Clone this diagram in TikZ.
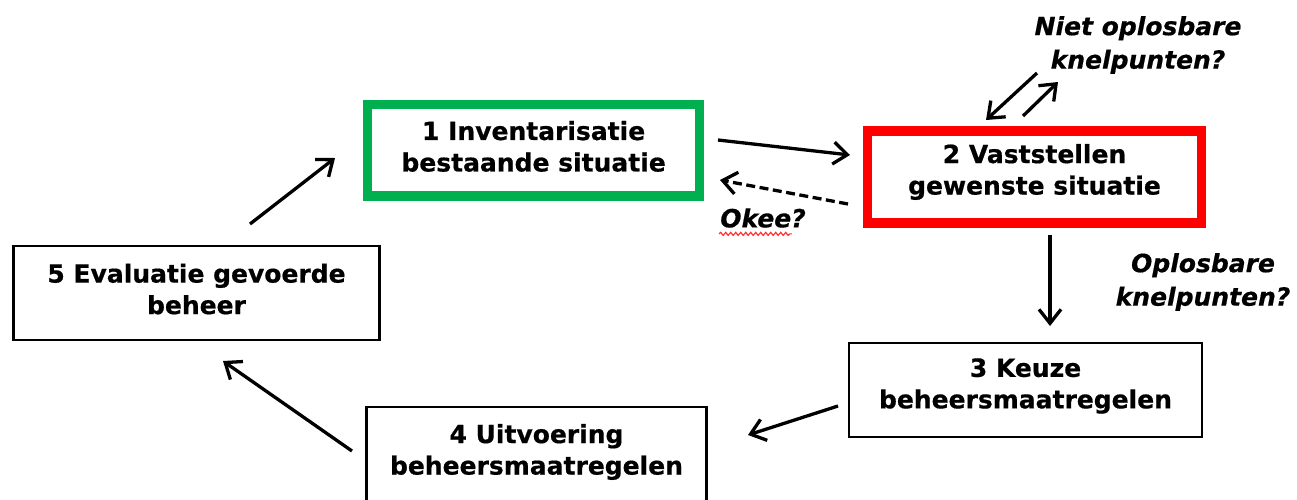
\documentclass[tikz,border=0pt]{standalone}
\usepackage{fontspec}
\setmainfont[BoldFeatures={FakeBold=0.6},BoldItalicFeatures={FakeBold=0.6}]{DejaVu Sans}
\usetikzlibrary{arrows.meta,decorations.pathmorphing}
\definecolor{boxgreen}{HTML}{00B050}
\definecolor{boxred}{HTML}{FF0000}
\begin{document}
\begin{tikzpicture}[x=1pt,y=-1pt,
  txt/.style={font=\fontsize{25}{31.5}\selectfont\bfseries, align=center, inner sep=0pt},
  itxt/.style={font=\fontsize{25}{33.5}\selectfont\bfseries\itshape, align=center, inner sep=0pt},
  plainbox/.style={draw=black, line width=2.2pt, inner sep=0pt},
  greenbox/.style={draw=boxgreen, line width=9.5pt, inner sep=0pt},
  redbox/.style={draw=boxred, line width=9.5pt, inner sep=0pt},
  arr/.style={line width=3.3pt, -{Straight Barb[length=14pt,width=22pt,line width=3.3pt]}},
  darr/.style={arr, dash pattern=on 9pt off 4.5pt}
]
\useasboundingbox (0,0) rectangle (1297,499);
\clip (0,0) rectangle (1297,499);

\node[greenbox, minimum width=332pt, minimum height=91.5pt] (b1) at (533.6,150.4) {};
\node[redbox, minimum width=334pt, minimum height=92pt] (b2) at (1034.5,177) {};
\node[plainbox, minimum width=353pt, minimum height=94pt] (b3) at (1025.5,390) {};
\node[plainbox, minimum width=340pt, minimum height=98pt] (b4) at (536.5,456) {};
\node[plainbox, minimum width=366pt, minimum height=94pt] (b5) at (196.5,293) {};

\node[txt] (t1) at ([yshift=4pt]b1.center) {1 Inventarisatie\\bestaande situatie};
\node[txt] (t2) at ([yshift=5pt]b2.center) {2 Vaststellen\\gewenste situatie};
\node[txt] (t3) at ([yshift=4pt]b3.center) {3 Keuze\\beheersmaatregelen};
\node[txt] (t4) at ([yshift=4pt]b4.center) {4 Uitvoering\\beheersmaatregelen};
\node[txt] (t5) at ([yshift=4pt]b5.center) {5 Evaluatie gevoerde\\beheer};

\node[itxt] (niet) at (1138,45) {Niet oplosbare\\knelpunten?};
\node[itxt] (opl) at (1203,282) {Oplosbare\\knelpunten?};
\node[itxt] (okee) at (763,218) {Okee?};

% endpoints
\coordinate (a12s) at (718,140);
\coordinate (a12e) at (850,155);
\coordinate (a21s) at (848,204);
\coordinate (a21e) at (720,180);
\coordinate (n1s) at (1037,73);
\coordinate (n1e) at (986,120);
\coordinate (n2s) at (1023,116);
\coordinate (n2e) at (1058,82);
\coordinate (a23s) at (1050,235);
\coordinate (a23e) at (1050,326);
\coordinate (a34s) at (838,406);
\coordinate (a34e) at (748,435);
\coordinate (a45s) at (352,451);
\coordinate (a45e) at (223,361);
\coordinate (a51s) at (250,224);
\coordinate (a51e) at (335,158);

\draw[arr] (a12s) -- (a12e);
\draw[darr] (a21s) -- (a21e);
\draw[arr] (n1s) -- (n1e);
\draw[arr] (n2s) -- (n2e);
\draw[arr] (a23s) -- (a23e);
\draw[arr] (a34s) -- (a34e);
\draw[arr] (a45s) -- (a45e);
\draw[arr] (a51s) -- (a51e);

\draw[red!80, line width=1.2pt, decorate, decoration={snake, amplitude=1.5pt, segment length=5pt}]
  ([yshift=-6pt,xshift=-1pt]okee.south west) -- ([yshift=-6pt,xshift=-14pt]okee.south east);
\end{tikzpicture}
\end{document}
